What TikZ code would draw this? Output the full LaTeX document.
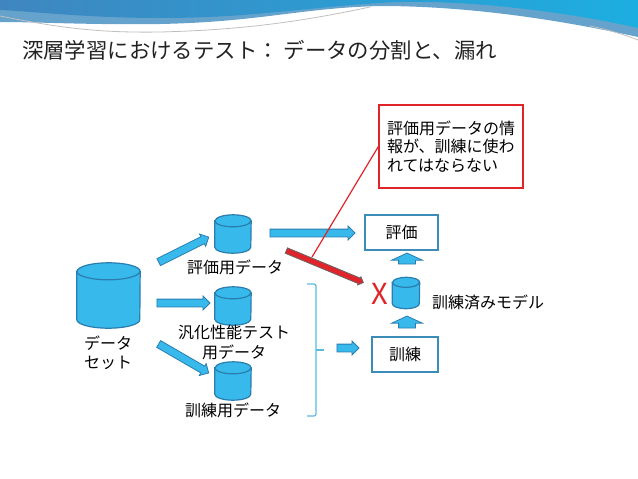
\documentclass[tikz,border=0pt]{standalone}
\usepackage{fontspec}
\setmainfont{Noto Sans CJK JP}
\usepackage{tikz}
\usetikzlibrary{shapes.arrows}
\usetikzlibrary{calc}
\usetikzlibrary{positioning}

\definecolor{dbfill}{HTML}{38B9EC}
\definecolor{dbline}{HTML}{2B7DAE}
\definecolor{boxline}{HTML}{3B8DB8}
\definecolor{bracecol}{HTML}{5BB8E0}
\definecolor{warnred}{HTML}{E0242A}
\definecolor{hdrdark}{HTML}{3F86C0}
\definecolor{hdrlight}{HTML}{1DAEE0}
\definecolor{hdrpale}{HTML}{66A3CC}
\definecolor{titlegray}{HTML}{222222}

\tikzset{
  dbline/.style={draw=dbline, fill=dbfill, line width=1.2pt},
  barrow/.style={single arrow, draw=dbline, fill=dbfill, line width=0.8pt,
    inner xsep=0pt, inner ysep=3.5pt, single arrow head extend=3pt,
    sloped, allow upside down},
  uparrow/.style={barrow, inner ysep=8pt, single arrow head extend=7pt,
    single arrow tip angle=130},
  redarrow/.style={barrow, fill=warnred, draw=black!60, inner ysep=2.5pt,
    single arrow head extend=1.5pt},
  lbl/.style={font=\fontsize{16}{19.5}\selectfont, align=center, inner sep=0pt},
  stepbox/.style={draw=boxline, line width=1.2pt, fill=white, font=\fontsize{16}{19.5}\selectfont}
}

% cylinder: name, x, y, width, height, ellipse half height
\newcommand{\dbcyl}[6]{%
  \node[minimum width=#4pt, minimum height=#5pt, inner sep=0pt] (#1) at (#2,#3) {};
  \draw[dbline] ($(#1.north west)+(0,#6)$) -- ($(#1.south west)+(0,-#6)$)
    arc[start angle=180, end angle=360, x radius={0.5*#4pt}, y radius=#6pt]
    -- ($(#1.north east)+(0,#6)$)
    arc[start angle=0, end angle=180, x radius={0.5*#4pt}, y radius=#6pt] -- cycle;
  \draw[dbline, fill=none] ($(#1.north west)+(0,#6)$)
    arc[start angle=180, end angle=360, x radius={0.5*#4pt}, y radius=#6pt];}

% block arrow between two points
\newcommand{\blockarr}[3][]{%
  \path let \p1=($(#3)-(#2)$), \n1={veclen(\x1,\y1)} in
    (#2) -- node[barrow, #1, minimum height=\n1] {} (#3);}

\begin{document}
\begin{tikzpicture}[x=1pt, y=-1pt]
  \useasboundingbox (0,0) rectangle (638,479);

%%%%%%%%%%%% header band
  \fill[hdrpale] (0,0) -- (638,0) -- (638,37) .. controls (560,20) and (470,6) .. (380,6)
    .. controls (300,8) and (260,22) .. (160,24) .. controls (90,25) and (40,22) .. (0,22) -- cycle;
  \shade[left color=hdrdark, right color=hdrlight] (0,0) -- (638,0) -- (638,28)
    .. controls (560,10) and (450,-2) .. (380,3) .. controls (300,8) and (250,18) .. (160,18)
    .. controls (90,18) and (40,12) .. (0,10) -- cycle;
  \draw[black!25, line width=0.8pt] (0,16) .. controls (60,28) and (100,33) .. (160,32)
    .. controls (240,30) and (300,22) .. (370,7);
  \draw[black!25, line width=0.8pt] (590,26) .. controls (610,30) and (625,35) .. (638,40);

  \node[anchor=west, inner sep=0pt, text=titlegray, font=\fontsize{21.4}{25}\selectfont]
    (title) at (22,50) {深層学習におけるテスト： データの分割と、漏れ};

%%%%%%%%%%%% data sets
  \dbcyl{data}{108.5}{295.5}{63}{65}{8.5}
  \node[lbl] (datalbl) at (108,353) {データ\\セット};

  \dbcyl{evaldb}{233}{234}{36}{38}{6}
  \dbcyl{testdb}{233}{306}{36}{38}{6}
  \dbcyl{traindb}{233}{381}{36}{38}{6}
  \node[lbl] (evallbl) at (235,267) {評価用データ};
  \node[lbl] (testlbl) at (234,342.5) {汎化性能テスト\\用データ};
  \node[lbl] (trainlbl) at (233,410) {訓練用データ};

  \coordinate (a1s) at (157,263); \coordinate (a1t) at (207,238);
  \coordinate (a2s) at (155,303); \coordinate (a2t) at (208,303);
  \coordinate (a3s) at (157,343); \coordinate (a3t) at (207,372);
  \blockarr{a1s}{a1t}
  \blockarr{a2s}{a2t}
  \blockarr{a3s}{a3t}

%%%%%%%%%%%% training / evaluation
  \node[stepbox, minimum width=73pt, minimum height=35pt] (eval) at (401.5,232.5) {評価};
  \node[stepbox, minimum width=66pt, minimum height=35pt] (train) at (405,354.5) {訓練};
  \dbcyl{model}{406}{293}{27}{31}{5}
  \node[lbl, anchor=west] (modellbl) at (432,302) {訓練済みモデル};
  \node[inner sep=0pt, text=warnred, font=\fontsize{29}{30}\selectfont] (cross) at (380,294) {X};

  \coordinate (a4s) at (268,233); \coordinate (a4t) at (353,233);
  \coordinate (a5s) at (285,250); \coordinate (a5t) at (362,282);
  \coordinate (a6s) at (335,348); \coordinate (a6t) at (357,348);
  \blockarr{a4s}{a4t}
  \blockarr[redarrow]{a5s}{a5t}
  \blockarr{a6s}{a6t}
  \coordinate (u1s) at (407,266); \coordinate (u1t) at (407,255);
  \coordinate (u2s) at (407,330); \coordinate (u2t) at (407,318);
  \blockarr[uparrow]{u1s}{u1t}
  \blockarr[uparrow]{u2s}{u2t}

  % brace round the training data
  \draw[bracecol, line width=1.2pt, rounded corners=2pt]
    (307,284) -- (316,284) -- (316,416) -- (307,416);
  \draw[bracecol, line width=1.2pt] (316,350) -- (324,350);

%%%%%%%%%%%% warning note
  \node[draw=warnred, line width=1.3pt, minimum width=144pt, minimum height=83pt,
    text width=128pt, align=left, font=\fontsize{16}{18.4}\selectfont] (note) at (451,146.5)
    {評価用データの情\\報が、訓練に使わ\\れてはならない};
  \coordinate (leak) at (312,257);
  \draw[warnred, line width=1.2pt] (note.west) -- (leak);
\end{tikzpicture}
\end{document}
